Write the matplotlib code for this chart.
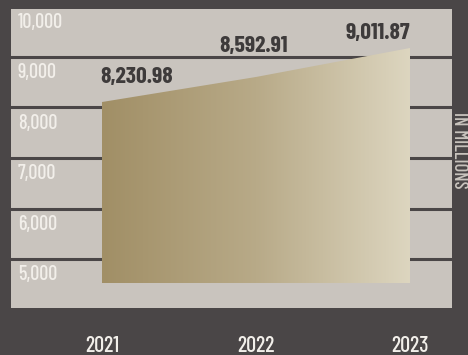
import numpy as np
import matplotlib.pyplot as plt
from matplotlib.colors import LinearSegmentedColormap
from matplotlib.patches import Polygon

plt.rcParams['font.family'] = ['Barlow Condensed', 'Roboto Condensed', 'Oswald', 'DejaVu Sans']

years = [2021, 2022, 2023]
revenue = [8230.98, 8592.91, 9011.87]
value_labels = ["8,230.98", "8,592.91", "9,011.87"]
band_ticks = [5000, 6000, 7000, 8000, 9000, 10000]
band_labels = ["5,000", "6,000", "7,000", "8,000", "9,000", "10,000"]

BG = "#4a4647"
PANEL = "#c9c4be"
TEXT = "#3e3b3b"
LIGHT = "#f2efea"

fig = plt.figure(figsize=(4.68, 3.55), dpi=100, facecolor=BG)

# panel with the banded scale on the left
ax = fig.add_axes([11 / 468, 1 - 308 / 355, 441 / 468, 299 / 355])
ax.set_facecolor(PANEL)
ax.set_xlim(2021 - 91 / 154, 2023 + 42 / 154)
ax.set_ylim(4530, 10450)
for y in np.arange(5500, 10000, 1000):
    ax.axhline(y, color=BG, lw=2.2, zorder=1)
for t, lab in zip(band_ticks, band_labels):
    ax.text(2021 - 84 / 154, t + 190, lab, color=LIGHT, fontsize=14.5,
            fontweight="medium", va="center", ha="left", zorder=2)
for s in ax.spines.values():
    s.set_visible(False)
ax.set_yticks([])
ax.set_xticks(years)
ax.set_xticklabels([str(y) for y in years])
ax.tick_params(axis="x", length=0, pad=20, labelsize=16, labelcolor=LIGHT)
for lab in ax.get_xticklabels():
    lab.set_fontweight("medium")

# area on its own scale, drawn over the band lines
ax2 = ax.twinx()
ax2.set_ylim(5252, 9576)
base = 5613
verts = [(years[0], base)] + list(zip(years, revenue)) + [(years[-1], base)]
poly = Polygon(verts, closed=True, facecolor="none", edgecolor="none")
ax2.add_patch(poly)
cmap = LinearSegmentedColormap.from_list("gold", ["#a18f66", "#b8aa88", "#ddd6c0"])
grad = np.linspace(0, 1, 256).reshape(1, -1)
img = ax2.imshow(grad, cmap=cmap, aspect="auto",
                 extent=[years[0], years[-1], base, max(revenue)], zorder=3)
img.set_clip_path(poly)
ax2.set_xlim(ax.get_xlim())

offsets = [(-1, 18), (-2, 22), (0, 11)]
aligns = ["left", "center", "right"]
for x, v, lab, off, ha in zip(years, revenue, value_labels, offsets, aligns):
    ax2.annotate(lab, (x, v), xytext=off, textcoords="offset points",
                 ha=ha, va="center", fontsize=17, fontweight="bold",
                 color=TEXT, zorder=4)
for s in ax2.spines.values():
    s.set_visible(False)
ax2.set_yticks([])

fig.text(459.5 / 468, 1 - 150 / 355, "IN MILLIONS", rotation=-90, color=PANEL,
         fontsize=13.5, fontweight="medium", ha="center", va="center")

fig.savefig("out.png", dpi=100, facecolor=BG)
